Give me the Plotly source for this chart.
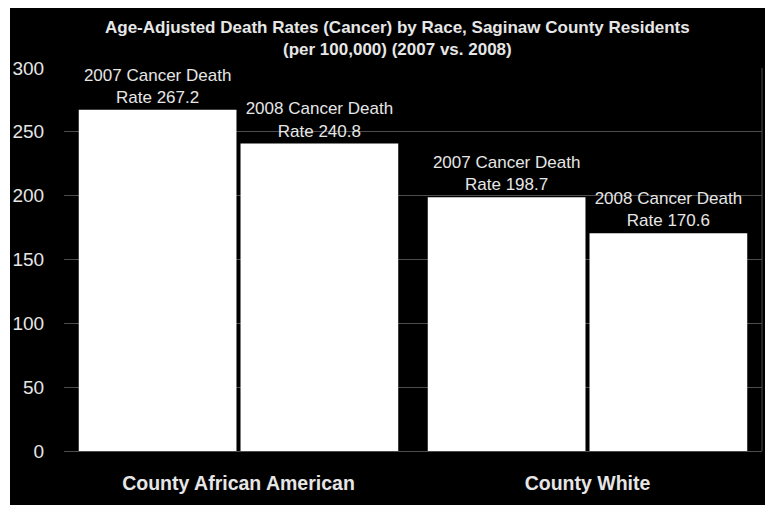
import plotly.graph_objects as go

categories = ["County African American", "County White"]
years = ["2007", "2008"]
rates_2007 = [267.2, 198.7]
rates_2008 = [240.8, 170.6]
y_ticks = [0, 50, 100, 150, 200, 250, 300]

title_line1 = "Age-Adjusted Death Rates (Cancer) by Race, Saginaw County Residents"
title_line2 = "(per 100,000) (2007 vs. 2008)"

txt = "#e6e6e6"
font = "Liberation Sans, Arial, sans-serif"

W, H = 765, 505
L, R, T, B = 64, 762, 68, 451
pw, ph = R - L, B - T


def px_x(p):
    return (p - L) / pw


def px_y(p):
    return (B - p) / ph


fig = go.Figure()
for yr, vals in zip(years, [rates_2007, rates_2008]):
    fig.add_trace(go.Bar(
        x=categories, y=vals, name=yr,
        marker=dict(color="white", line=dict(width=0)),
        text=[f"{yr} Cancer Death<br>Rate {v}" for v in vals],
        textposition="outside",
        textfont=dict(family=font, size=17, color=txt),
        constraintext="none",
        cliponaxis=False,
    ))

fig.update_layout(
    width=W, height=H,
    margin=dict(l=L, r=W - R, t=T, b=H - B, pad=0),
    paper_bgcolor="black",
    plot_bgcolor="black",
    barmode="group",
    bargap=0.073,
    bargroupgap=0.025,
    showlegend=False,
    font=dict(family=font, color=txt),
    shapes=[
        # white strips at top and left of the picture
        dict(type="rect", xref="paper", yref="paper",
             x0=px_x(-2), x1=px_x(W + 2), y0=px_y(8), y1=px_y(-2),
             fillcolor="white", line=dict(width=0), layer="below"),
        dict(type="rect", xref="paper", yref="paper",
             x0=px_x(-2), x1=px_x(10), y0=px_y(H + 2), y1=px_y(-2),
             fillcolor="white", line=dict(width=0), layer="below"),
        dict(type="line", xref="paper", yref="paper",
             x0=1, x1=1, y0=0, y1=1,
             line=dict(color="#4d4d4d", width=1), layer="below"),
    ],
    annotations=[
        dict(text=f"<b>{title_line1}</b><br><b>{title_line2}</b>",
             xref="paper", yref="paper", x=px_x(397), y=px_y(38),
             xanchor="center", yanchor="middle", showarrow=False,
             font=dict(family=font, size=17, color=txt)),
    ],
)
fig.update_xaxes(
    tickfont=dict(family=font, size=19.5, color=txt),
    tickprefix="<b>", ticksuffix="</b>",
    ticks="outside", ticklen=15, tickcolor="rgba(0,0,0,0)",
    showgrid=False, showline=False, zeroline=False,
)
fig.update_yaxes(
    range=[0, 300], tickvals=y_ticks,
    tickfont=dict(family=font, size=19, color=txt),
    ticks="outside", ticklen=15, tickcolor="rgba(0,0,0,0)",
    showgrid=True, gridcolor="#4d4d4d", gridwidth=1,
    zeroline=True, zerolinecolor="#4d4d4d", zerolinewidth=1,
    showline=False,
)
fig.write_html(
    "out.html",
    config={"displayModeBar": False},
    post_script="document.body.style.margin='0';document.body.style.overflow='hidden';document.body.style.background='black';",
)
